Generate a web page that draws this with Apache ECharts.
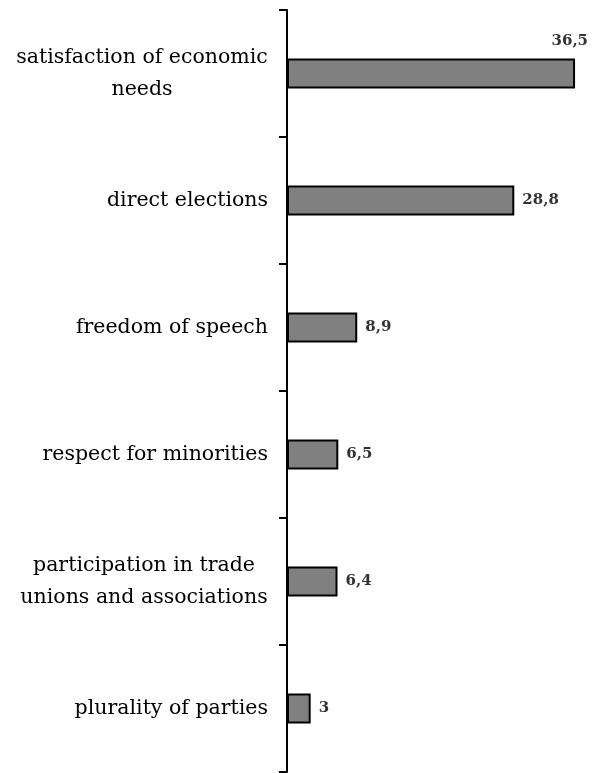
<!DOCTYPE html>
<html>
<head>
<meta charset="utf-8">
<script src="https://cdn.jsdelivr.net/npm/echarts@6/dist/echarts.min.js"></script>
<style>
  html, body { margin: 0; padding: 0; background: #fff; }
  #chart { width: 594px; height: 773px; }
</style>
</head>
<body>
<div id="chart"></div>
<script>
// categories, top to bottom
var categories = [
  'satisfaction of economic\nneeds',
  'direct elections',
  'freedom of speech',
  'respect for minorities',
  'participation in trade\nunions and associations',
  'plurality of parties'
];
var values = [36.5, 28.8, 8.9, 6.5, 6.4, 3];

var serif = 'DejaVu Serif';
var labelSize = 20.5;

// measure text width so multi-line labels can be centred on their longest line
var ctx = document.createElement('canvas').getContext('2d');
ctx.font = labelSize + 'px "' + serif + '"';
function textW(s) { return Math.ceil(ctx.measureText(s).width); }

var myChart = echarts.init(document.getElementById('chart'));

var barData = values.map(function (v, i) {
  var item = { value: v };
  // first label sits above the bar end
  if (i === 0) {
    item.label = {
      position: ['100%', 0],
      align: 'right',
      verticalAlign: 'bottom',
      offset: [13, -10]
    };
  }
  return item;
});

var option = {
  backgroundColor: '#fff',
  animation: false,
  grid: {
    left: 287,
    top: 10,
    bottom: 1,
    width: 292
  },
  xAxis: {
    type: 'value',
    min: 0,
    max: 37,
    show: false
  },
  yAxis: {
    type: 'category',
    inverse: true,
    data: categories,
    axisLine: { show: true, lineStyle: { color: '#000', width: 2 } },
    axisTick: { show: true, inside: false, length: 8, lineStyle: { color: '#000', width: 2 } },
    axisLabel: {
      margin: 19,
      color: '#000',
      fontFamily: serif,
      fontSize: labelSize,
      lineHeight: 32,
      formatter: function (v) {
        var lines = v.split('\n');
        if (lines.length === 1) return v;
        var w = Math.max.apply(null, lines.map(textW));
        return lines.map(function (s) {
          return '{c|' + s + '}';
        }).join('\n').replace(/\{c\|/g, '{c' + w + '|');
      },
      rich: (function () {
        var r = {};
        categories.forEach(function (c) {
          var lines = c.split('\n');
          if (lines.length > 1) {
            var w = Math.max.apply(null, lines.map(textW));
            r['c' + w] = {
              fontFamily: serif,
              fontSize: labelSize,
              lineHeight: 32,
              color: '#000',
              width: w,
              align: 'center'
            };
          }
        });
        return r;
      })()
    }
  },
  series: [
    {
      type: 'bar',
      data: barData,
      barWidth: 30,
      itemStyle: {
        color: '#808080',
        borderColor: '#000',
        borderWidth: 2
      },
      label: {
        show: true,
        position: 'right',
        distance: 8,
        fontFamily: serif,
        fontWeight: 'bold',
        fontSize: 15,
        color: '#333',
        formatter: function (p) { return String(p.value).replace('.', ','); }
      }
    }
  ]
};

myChart.setOption(option);
</script>
</body>
</html>
